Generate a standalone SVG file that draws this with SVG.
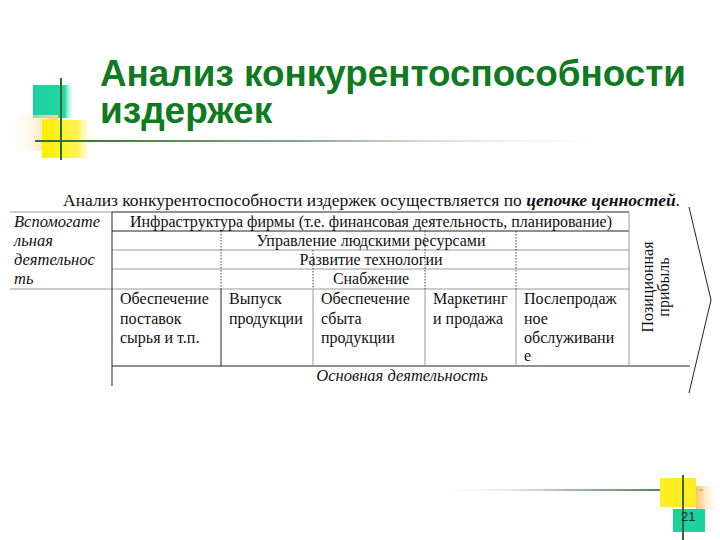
<svg xmlns="http://www.w3.org/2000/svg" width="720" height="540" viewBox="0 0 720 540">
<defs>
<linearGradient id="uline" x1="0" y1="0" x2="1" y2="0">
<stop offset="0" stop-color="#2f6a2f"/><stop offset="0.45" stop-color="#8aa98a"/><stop offset="1" stop-color="#ffffff" stop-opacity="0"/>
</linearGradient>
<linearGradient id="bline" x1="0" y1="0" x2="1" y2="0">
<stop offset="0" stop-color="#ffffff" stop-opacity="0"/><stop offset="0.5" stop-color="#a9bfa9"/><stop offset="1" stop-color="#2f6a2f"/>
</linearGradient>
<linearGradient id="orangeL" x1="1" y1="0" x2="0" y2="0">
<stop offset="0" stop-color="#ffd080"/><stop offset="1" stop-color="#ffffff" stop-opacity="0"/>
</linearGradient>
<linearGradient id="orangeR" x1="0" y1="0" x2="1" y2="0">
<stop offset="0" stop-color="#ffc466"/><stop offset="1" stop-color="#ffffff" stop-opacity="0"/>
</linearGradient>
<linearGradient id="yellowR" x1="0" y1="0" x2="1" y2="0">
<stop offset="0" stop-color="#ffee00"/><stop offset="0.7" stop-color="#fff25a"/><stop offset="1" stop-color="#ffffff" stop-opacity="0"/>
</linearGradient>
<linearGradient id="tealR" x1="0" y1="0" x2="1" y2="0">
<stop offset="0" stop-color="#19d29c"/><stop offset="0.75" stop-color="#22d6a6"/><stop offset="1" stop-color="#ffffff" stop-opacity="0"/>
</linearGradient>
</defs>
<style>
.t{font-family:"Liberation Serif","Times New Roman",serif;font-size:16px;fill:#111}
.i{font-style:italic;font-size:16.5px}
.h{font-family:"Liberation Sans",Arial,sans-serif;font-weight:bold;font-size:37px;fill:#0f7a1f}
.ln{stroke:#222;stroke-width:1;fill:none}
.lg{stroke:#999;stroke-width:1;fill:none}
.dt{stroke:#444;stroke-width:1;stroke-dasharray:1.5 1.5;fill:none}
</style>
<rect width="720" height="540" fill="#ffffff"/>

<g id="deco-top">
<rect x="33" y="85" width="42" height="33" fill="url(#tealR)"/>
<rect x="8" y="115" width="50" height="36" fill="url(#orangeL)"/>
<rect x="42" y="120" width="52" height="38" fill="url(#yellowR)"/>
<line x1="61" y1="78" x2="61" y2="160" stroke="#2f6a2f" stroke-width="2"/>
<rect x="35" y="140" width="600" height="2" fill="url(#uline)"/>
</g>

<g id="title">
<text class="h" x="100" y="86" textLength="586" lengthAdjust="spacingAndGlyphs">Анализ конкурентоспособности</text>
<text class="h" x="100" y="123">издержек</text>
</g>

<g id="deco-bottom">
<rect x="430" y="489" width="273" height="2" fill="url(#bline)"/>
<rect x="660" y="478" width="36" height="29" fill="#ffee22"/>
<rect x="696" y="486" width="24" height="24" fill="url(#orangeR)"/>
<rect x="673" y="509" width="32" height="23" fill="#19d29c"/>
<line x1="683" y1="475" x2="683" y2="540" stroke="#2f6a2f" stroke-width="2"/>
<text x="681" y="521" font-family="Liberation Sans,Arial,sans-serif" font-size="13" fill="#224">21</text>
</g>

<g id="heading">
<text class="t" x="63" y="206" font-size="17" textLength="617" lengthAdjust="spacingAndGlyphs">Анализ конкурентоспособности издержек осуществляется по <tspan font-weight="bold" font-style="italic">цепочке ценностей</tspan>.</text>
</g>

<g id="connectors">
<line class="lg" x1="10" y1="212" x2="112" y2="212"/>
<line class="ln" x1="112" y1="212" x2="629" y2="212"/>
<line class="ln" x1="112" y1="231" x2="629" y2="231"/>
<line class="lg" x1="112" y1="250" x2="629" y2="250"/>
<line class="lg" x1="112" y1="269" x2="629" y2="269"/>
<line class="lg" x1="10" y1="289" x2="112" y2="289"/>
<line class="lg" x1="112" y1="289" x2="629" y2="289"/>
<line class="ln" x1="112" y1="366" x2="690" y2="366"/>
<line class="ln" x1="112" y1="212" x2="112" y2="386"/>
<line class="lg" x1="629" y1="212" x2="629" y2="366"/>
<line class="ln" x1="221" y1="289" x2="221" y2="366"/>
<line class="lg" x1="313" y1="289" x2="313" y2="366"/>
<line class="lg" x1="425" y1="289" x2="425" y2="366"/>
<line class="lg" x1="516" y1="289" x2="516" y2="366"/>
<line class="dt" x1="221" y1="231" x2="221" y2="289"/>
<line class="dt" x1="313" y1="250" x2="313" y2="289"/>
<line class="dt" x1="425" y1="231" x2="425" y2="289"/>
<line class="dt" x1="516" y1="231" x2="516" y2="289"/>
<polyline class="ln" points="689,207 711,300 689,393"/>
</g>

<g id="support-label">
<text class="t i" x="14" y="227">Вспомогате</text>
<text class="t i" x="14" y="246">льная</text>
<text class="t i" x="14" y="265">деятельнос</text>
<text class="t i" x="14" y="284">ть</text>
</g>

<g id="support-rows">
<text class="t" x="371" y="227" text-anchor="middle">Инфраструктура фирмы (т.е. финансовая деятельность, планирование)</text>
<text class="t" x="371" y="246" text-anchor="middle">Управление людскими ресурсами</text>
<text class="t" x="371" y="265" text-anchor="middle">Развитие технологии</text>
<text class="t" x="371" y="284" text-anchor="middle">Снабжение</text>
</g>

<g id="cell1">
<text class="t" x="120" y="304">Обеспечение</text>
<text class="t" x="120" y="324">поставок</text>
<text class="t" x="120" y="343">сырья и т.п.</text>
</g>
<g id="cell2">
<text class="t" x="229" y="304">Выпуск</text>
<text class="t" x="229" y="324">продукции</text>
</g>
<g id="cell3">
<text class="t" x="321" y="304">Обеспечение</text>
<text class="t" x="321" y="324">сбыта</text>
<text class="t" x="321" y="343">продукции</text>
</g>
<g id="cell4">
<text class="t" x="433" y="304">Маркетинг</text>
<text class="t" x="433" y="324">и продажа</text>
</g>
<g id="cell5">
<text class="t" x="524" y="304">Послепродаж</text>
<text class="t" x="524" y="324">ное</text>
<text class="t" x="524" y="343">обслуживани</text>
<text class="t" x="524" y="361">е</text>
</g>

<g id="main-label">
<text class="t i" x="402" y="381" text-anchor="middle">Основная деятельность</text>
</g>

<g id="profit">
<text class="t" font-size="17" transform="translate(653,287) rotate(-90)" text-anchor="middle">Позиционная</text>
<text class="t" font-size="17" transform="translate(669,287) rotate(-90)" text-anchor="middle">прибыль</text>
</g>
</svg>
